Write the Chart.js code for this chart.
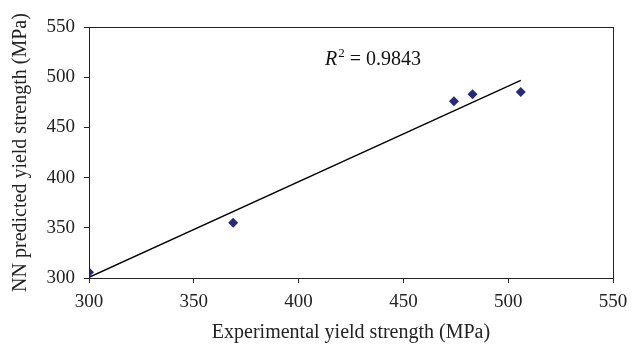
<!DOCTYPE html>
<html>
<head>
<meta charset="utf-8">
<script src="https://cdn.jsdelivr.net/npm/chart.js@4"></script>
<style>
  html, body { margin: 0; padding: 0; background: #fff; }
  #wrap { width: 640px; height: 351px; }
</style>
</head>
<body>
<div id="wrap"><canvas id="chart" width="640" height="351"></canvas></div>
<script>
  // measured vs. predicted yield strength (MPa)
  const experimental = [300, 368.8, 474.1, 483, 506];
  const predicted = [305.7, 355.1, 476, 483, 485.3];
  // linear trend line end points
  const trendX = [300, 506];
  const trendY = [300.7, 496.8];
  const tickValues = [300, 350, 400, 450, 500, 550];
  const rSquared = '0.9843';

  const serif = '"Liberation Serif", "DejaVu Serif", serif';
  Chart.defaults.font.family = serif;
  Chart.defaults.color = '#222';

  // frame round the plot area plus the R² label
  const framePlugin = {
    id: 'frame',
    afterDraw(chart) {
      const ctx = chart.ctx;
      const a = chart.chartArea;
      ctx.save();
      ctx.strokeStyle = '#222';
      ctx.lineWidth = 1;
      ctx.strokeRect(a.left + 0.5, a.top + 0.5, a.right - a.left, a.bottom - a.top);

      // R² label
      const x = chart.scales.x.getPixelForValue(412.6);
      const y = chart.scales.y.getPixelForValue(512);
      ctx.fillStyle = '#111';
      ctx.textBaseline = 'alphabetic';
      ctx.font = 'italic 20px ' + serif;
      ctx.fillText('R', x, y);
      let w = ctx.measureText('R').width;
      ctx.font = '13px ' + serif;
      ctx.fillText('2', x + w + 1, y - 8);
      w += ctx.measureText('2').width + 1;
      ctx.font = '20px ' + serif;
      ctx.fillText(' = ' + rSquared, x + w, y);
      ctx.restore();
    }
  };

  new Chart(document.getElementById('chart'), {
    type: 'scatter',
    data: {
      datasets: [{
        label: 'Data',
        data: experimental.map((v, i) => ({ x: v, y: predicted[i] })),
        pointStyle: 'rectRot',
        pointRadius: 5,
        backgroundColor: '#262a7a',
        borderColor: '#262a7a',
        borderWidth: 0
      }, {
        label: 'Trend',
        type: 'line',
        data: trendX.map((v, i) => ({ x: v, y: trendY[i] })),
        borderColor: '#000',
        borderWidth: 1.3,
        pointRadius: 0,
        fill: false
      }]
    },
    options: {
      responsive: false,
      animation: false,
      layout: { padding: { left: 0, right: 27, top: 27, bottom: 0 } },
      plugins: {
        legend: { display: false },
        tooltip: { enabled: false }
      },
      scales: {
        x: {
          type: 'linear',
          min: 300,
          max: 550,
          afterBuildTicks(scale) { scale.ticks = tickValues.map(v => ({ value: v })); },
          afterFit(scale) { scale.height = 73; },
          grid: { drawOnChartArea: false, tickLength: 5, color: '#222' },
          border: { color: '#222' },
          ticks: { padding: 8, font: { size: 19 }, color: '#222' },
          title: {
            display: true,
            text: 'Experimental yield strength (MPa)',
            font: { size: 20 },
            color: '#222',
            padding: { top: 0, bottom: 6 }
          }
        },
        y: {
          type: 'linear',
          min: 300,
          max: 550,
          afterBuildTicks(scale) { scale.ticks = tickValues.map(v => ({ value: v })); },
          afterFit(scale) { scale.width = 89; },
          grid: { drawOnChartArea: false, tickLength: 5, color: '#222' },
          border: { color: '#555' },
          ticks: { padding: 9, font: { size: 19 }, color: '#222' },
          title: {
            display: true,
            text: 'NN predicted yield strength (MPa)',
            font: { size: 20 },
            color: '#222',
            padding: { top: 9, bottom: 2 }
          }
        }
      }
    },
    plugins: [framePlugin]
  });
</script>
</body>
</html>
